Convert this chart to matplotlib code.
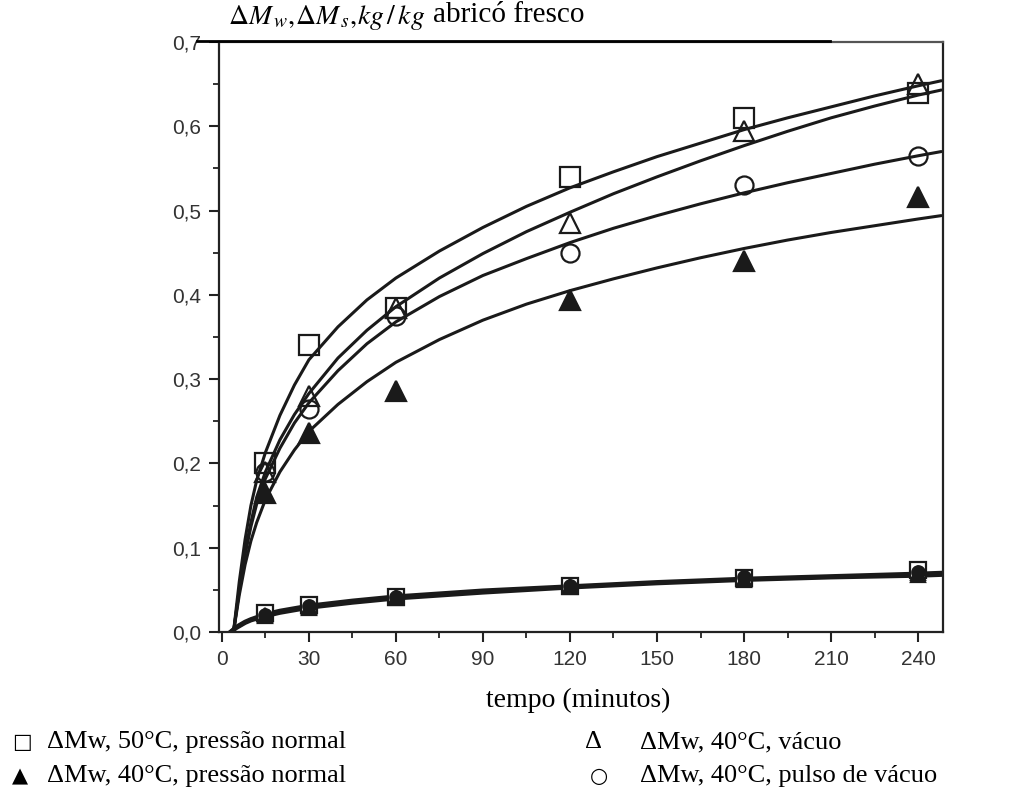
import matplotlib
matplotlib.use("Agg")
import matplotlib.pyplot as plt
from matplotlib.lines import Line2D
from matplotlib.ticker import MultipleLocator, FuncFormatter

# ---- data ----
t_pts = [15, 30, 60, 120, 180, 240]
mw_50_normal = [0.20, 0.34, 0.385, 0.54, 0.61, 0.64]     # open square
mw_40_vacuo = [0.19, 0.28, 0.385, 0.485, 0.595, 0.65]    # open triangle
mw_40_pulso = [0.19, 0.265, 0.375, 0.45, 0.53, 0.565]    # open circle
mw_40_normal = [0.165, 0.236, 0.286, 0.394, 0.44, 0.516] # filled triangle

ms_50_normal = [0.022, 0.032, 0.042, 0.055, 0.064, 0.074]
ms_40_vacuo = [0.020, 0.030, 0.041, 0.054, 0.063, 0.070]
ms_40_pulso = [0.020, 0.031, 0.042, 0.055, 0.065, 0.071]
ms_40_normal = [0.019, 0.029, 0.040, 0.053, 0.062, 0.068]

# fitted curves
t_fit = [4, 5, 6, 8, 10, 12, 15, 20, 25, 30, 40, 50, 60, 75, 90, 105, 120,
         135, 150, 165, 180, 195, 210, 225, 240, 248]
fit_50_normal = [0.0, 0.03, 0.06, 0.11, 0.15, 0.18, 0.213, 0.257, 0.293, 0.323, 0.362, 0.394, 0.42,
                 0.452, 0.48, 0.505, 0.527, 0.546, 0.564, 0.58, 0.596, 0.61, 0.623, 0.636, 0.648, 0.654]
fit_40_vacuo = [0.0, 0.025, 0.05, 0.095, 0.13, 0.16, 0.19, 0.228, 0.258, 0.283, 0.325, 0.358, 0.386,
                0.42, 0.449, 0.475, 0.498, 0.52, 0.54, 0.559, 0.577, 0.594, 0.61, 0.624, 0.637, 0.643]
fit_40_pulso = [0.0, 0.025, 0.05, 0.092, 0.125, 0.152, 0.182, 0.218, 0.248, 0.272, 0.31, 0.342, 0.368,
                0.398, 0.423, 0.443, 0.462, 0.479, 0.494, 0.508, 0.521, 0.533, 0.544, 0.555, 0.565, 0.57]
fit_40_normal = [0.0, 0.022, 0.044, 0.08, 0.108, 0.13, 0.157, 0.19, 0.216, 0.238, 0.27, 0.297, 0.32,
                 0.347, 0.37, 0.389, 0.405, 0.419, 0.432, 0.444, 0.455, 0.465, 0.474, 0.482, 0.49, 0.494]

t_fit_s = [3, 5, 8, 10, 15, 20, 30, 45, 60, 90, 120, 150, 180, 210, 240, 248]
fit_s_a = [0.0, 0.006, 0.012, 0.015, 0.021, 0.025, 0.031, 0.037, 0.042, 0.049, 0.054, 0.059, 0.063, 0.066, 0.069, 0.070]
fit_s_b = [0.0, 0.005, 0.011, 0.014, 0.019, 0.023, 0.029, 0.035, 0.040, 0.047, 0.053, 0.058, 0.062, 0.065, 0.067, 0.068]

x_ticks = [0, 30, 60, 90, 120, 150, 180, 210, 240]
x_labels = ["0", "30", "60", "90", "120", "150", "180", "210", "240"]
y_ticks = [0.0, 0.1, 0.2, 0.3, 0.4, 0.5, 0.6, 0.7]

title_text = r"$\Delta M_{\,w},\!\Delta M_{\,s},\!kg\,/\,kg$"
title_text2 = "abricó fresco"
xlabel_text = "tempo (minutos)"
legend_items = [
    ("□", "ΔMw, 50°C, pressão normal"),
    ("Δ", "ΔMw, 40°C, vácuo"),
    ("▲", "ΔMw, 40°C, pressão normal"),
    ("○", "ΔMw, 40°C, pulso de vácuo"),
]

# ---- figure ----
plt.rcParams["mathtext.fontset"] = "stix"
W, H = 1016, 798
fig = plt.figure(figsize=(W / 100, H / 100), dpi=100)
ax = fig.add_axes([219 / W, 1 - 632 / H, (943 - 219) / W, (632 - 42) / H])

ink = "#1a1a1a"
for yf in (fit_50_normal, fit_40_vacuo, fit_40_pulso, fit_40_normal):
    ax.plot(t_fit, yf, color=ink, lw=2.2, solid_capstyle="round", solid_joinstyle="round", zorder=2)
for yf in (fit_s_a, fit_s_b):
    ax.plot(t_fit_s, yf, color=ink, lw=3.2, solid_joinstyle="round", zorder=2)

mk = dict(ls="none", mew=1.6, zorder=3)
ax.plot(t_pts, mw_50_normal, marker="s", ms=15, mfc="none", mec=ink, **mk)
ax.plot(t_pts, mw_40_vacuo, marker="^", ms=14, mfc="none", mec=ink, **mk)
ax.plot(t_pts, mw_40_pulso, marker="o", ms=13, mfc="none", mec=ink, **mk)
ax.plot(t_pts, mw_40_normal, marker="^", ms=14, mfc=ink, mec=ink, **mk)

ax.plot(t_pts, ms_50_normal, marker="s", ms=12, mfc="white", mec=ink, **mk)
ax.plot(t_pts, ms_40_vacuo, marker="^", ms=10, mfc="none", mec=ink, **mk)
ax.plot(t_pts, ms_40_pulso, marker="o", ms=9, mfc=ink, mec=ink, **mk)
ax.plot(t_pts, ms_40_normal, marker="^", ms=10, mfc=ink, mec=ink, **mk)

ax.set_xlim(-1, 248.6)
ax.set_ylim(0, 0.7)
ax.set_xticks(x_ticks)
ax.set_xticklabels(x_labels)
ax.set_yticks(y_ticks)
ax.yaxis.set_major_formatter(FuncFormatter(lambda v, p: f"{v:.1f}".replace(".", ",")))
ax.xaxis.set_minor_locator(MultipleLocator(15))
ax.yaxis.set_minor_locator(MultipleLocator(0.05))

for s in ax.spines.values():
    s.set_color("#222222")
    s.set_linewidth(1.6)
ax.spines["top"].set_color("#555555")
ax.tick_params(axis="both", which="major", direction="out", length=7, width=1.5,
               color="#222222", labelsize=15, labelcolor="#333333", pad=6)
ax.tick_params(axis="both", which="minor", direction="out", length=4, width=1.3, color="#222222")
for lab in ax.get_xticklabels() + ax.get_yticklabels():
    lab.set_fontfamily("Liberation Sans")

# top black rule
fig.add_artist(Line2D([197 / W, 830 / W], [1 - 41 / H, 1 - 41 / H], color="black", lw=2.0))

serif = "Liberation Serif"
fig.text(228 / W, 1 - 17 / H, title_text, fontsize=20, va="center", ha="left", color="black")
fig.text(433 / W, 1 - 15 / H, title_text2, fontsize=21, va="center", ha="left",
         family=serif, color="black")
fig.text(578 / W, 1 - 700 / H, xlabel_text, fontsize=20, va="center", ha="center",
         family=serif, color="black")

pos = [(12, 47, 742), (585, 640, 742), (12, 47, 776), (590, 640, 776)]
for (sym, txt), (xs, xt, yy) in zip(legend_items, pos):
    fam = ["DejaVu Sans"] if sym in ("□", "▲", "○") else [serif]
    fig.text(xs / W, 1 - yy / H, sym, fontsize=15 if sym != "Δ" else 19, va="center", ha="left",
             family=fam, color="black")
    fig.text(xt / W, 1 - yy / H, txt, fontsize=19, va="center", ha="left",
             family=[serif, "DejaVu Serif"], color="black")

fig.savefig("out.png", dpi=100, facecolor="white")
